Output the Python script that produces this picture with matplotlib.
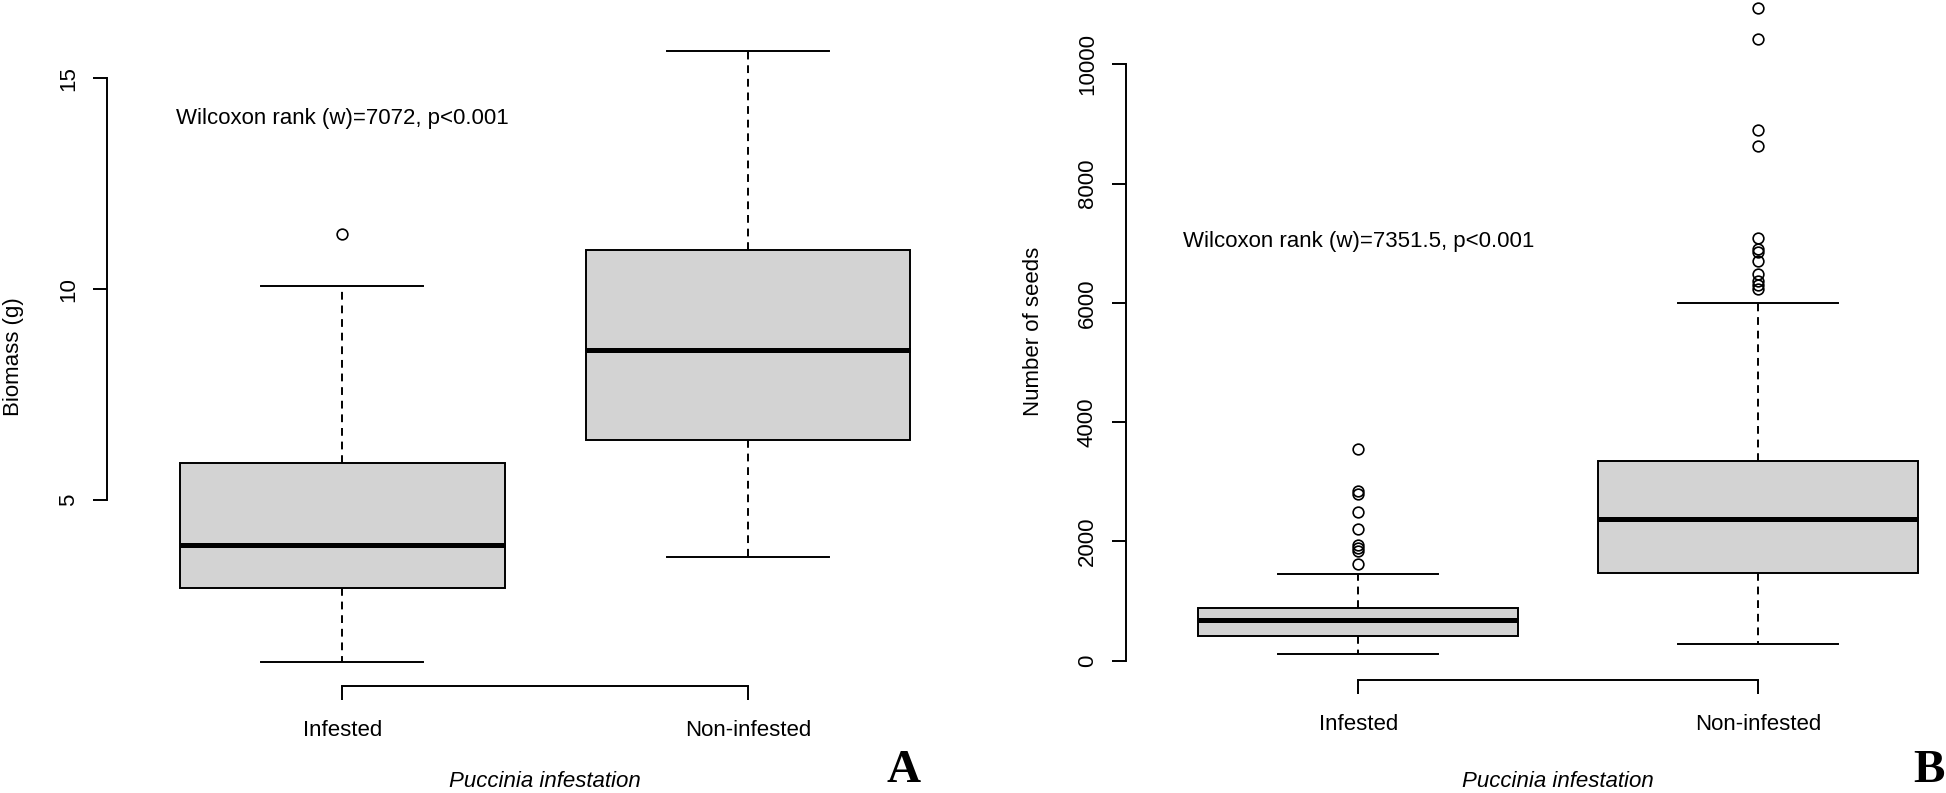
import matplotlib
matplotlib.use("Agg")
import matplotlib.pyplot as plt
import matplotlib.transforms as mtransforms

plt.rcParams["font.family"] = ["Liberation Sans", "DejaVu Sans"]

# data (box-plot summaries)
groups = ["Infested", "Non-infested"]

biomass_whislo = [1.17, 3.64]
biomass_q1 = [2.91, 6.43]
biomass_med = [3.94, 8.55]
biomass_q3 = [5.88, 10.94]
biomass_whishi = [10.08, 15.65]
biomass_fliers = [[11.30], []]

seeds_whislo = [106, 272]
seeds_q1 = [414, 1467]
seeds_med = [680, 2380]
seeds_q3 = [886, 3355]
seeds_whishi = [1455, 6003]
seeds_fliers = [
    [3555, 2845, 2790, 2490, 2215, 1940, 1893, 1838, 1615],
    [10950, 10430, 8900, 8625, 7095, 6900, 6855, 6705, 6480, 6365, 6298, 6236],
]

biomass_ticks = [5, 10, 15]
seeds_ticks = [0, 2000, 4000, 6000, 8000, 10000]

biomass_note = "Wilcoxon rank (w)=7072, p<0.001"
seeds_note = "Wilcoxon rank (w)=7351.5, p<0.001"


def make_stats(whislo, q1, med, q3, whishi, fliers):
    return [
        dict(whislo=a, q1=b, med=c, q3=d, whishi=e, fliers=f)
        for a, b, c, d, e, f in zip(whislo, q1, med, q3, whishi, fliers)
    ]


def draw_panel(ax, stats, ylim, yticks, ylabel, note, note_y, letter, letter_x):
    lw = 1.4
    fig = ax.figure
    ax.bxp(
        stats,
        positions=[1, 2],
        widths=0.8,
        capwidths=0.4,
        patch_artist=True,
        boxprops=dict(facecolor="#d3d3d3", edgecolor="black", linewidth=lw),
        medianprops=dict(color="black", linewidth=3.6, solid_capstyle="butt"),
        whiskerprops=dict(color="black", linestyle=(0, (4, 3)), linewidth=lw),
        capprops=dict(color="black", linewidth=lw),
        flierprops=dict(marker="o", markerfacecolor="none", markeredgecolor="black",
                        markersize=7.7, markeredgewidth=1.2),
    )
    ax.set_xlim(0.42, 2.58)
    ax.set_ylim(*ylim)

    for s in ["top", "right"]:
        ax.spines[s].set_visible(False)
    ax.spines["left"].set_bounds(yticks[0], yticks[-1])
    ax.spines["bottom"].set_bounds(1, 2)
    ax.spines["left"].set_linewidth(lw)
    ax.spines["bottom"].set_linewidth(lw)

    ax.set_xticks([1, 2])
    ax.set_xticklabels(groups)
    ax.set_yticks(yticks)
    ax.set_yticklabels([str(t) for t in yticks])
    ax.tick_params(direction="out", length=10, width=lw, labelsize=16)
    ax.tick_params(axis="x", pad=14.5)
    ax.tick_params(axis="y", pad=10.5, labelrotation=90)
    for t in ax.get_yticklabels():
        t.set_va("center")

    ax.set_ylabel(ylabel, fontsize=16, va="center")
    ax.yaxis.set_label_coords(-0.107, 0.5)

    # x label sits at the bottom edge of the figure, like the reference
    bottom_tr = mtransforms.blended_transform_factory(ax.transAxes, fig.transFigure)
    ax.set_xlabel("Puccinia infestation", fontsize=16, style="italic", va="bottom")
    ax.xaxis.set_label_coords(0.5, 0.0015, transform=bottom_tr)

    ax.text(1, note_y, note, fontsize=16, ha="center", va="center")

    fig.text(letter_x, 0.0015, letter, fontsize=34, fontweight="bold",
             family="Liberation Serif", ha="center", va="bottom")


fig = plt.figure(figsize=(19.46, 7.93), dpi=100)
ax1 = fig.add_axes([0.0551, 0.1349, 0.4500, 0.8316])
ax2 = fig.add_axes([0.5788, 0.1422, 0.4437, 0.8811])

draw_panel(ax1,
           make_stats(biomass_whislo, biomass_q1, biomass_med, biomass_q3,
                      biomass_whishi, biomass_fliers),
           (0.59, 16.23), biomass_ticks, "Biomass (g)", biomass_note, 14.05,
           "A", 0.4645)
draw_panel(ax2,
           make_stats(seeds_whislo, seeds_q1, seeds_med, seeds_q3,
                      seeds_whishi, seeds_fliers),
           (-328, 11387), seeds_ticks, "Number of seeds", seeds_note, 7020,
           "B", 0.9915)

fig.savefig("out.png", dpi=100)
